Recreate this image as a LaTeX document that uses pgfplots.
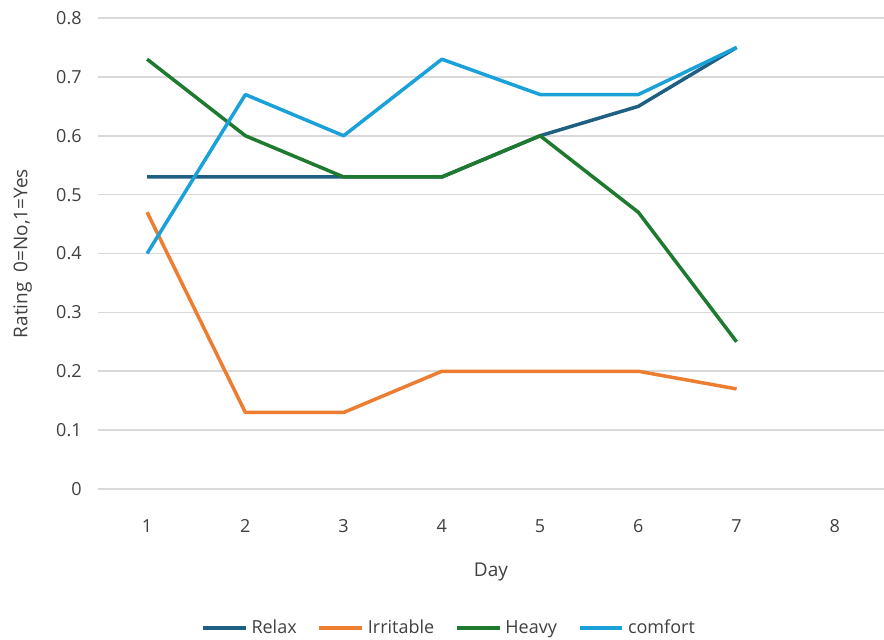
\documentclass[border=0pt]{standalone}
\usepackage{pgfplots}
\pgfplotsset{compat=1.18}
\usepackage{fontspec}
\setmainfont{Open Sans}
\definecolor{crelax}{HTML}{1F5F82}
\definecolor{cirr}{HTML}{ED7D31}
\definecolor{cheavy}{HTML}{1E7A2E}
\definecolor{ccomf}{HTML}{1BA1D9}
\definecolor{cgrid}{HTML}{D9D9D9}
\definecolor{ctext}{HTML}{404040}
\begin{document}
\fontsize{9}{10}\selectfont
\begin{tikzpicture}
\path[use as bounding box] (-49pt,-75pt) rectangle (393pt,244.5pt);
\begin{axis}[
  scale only axis,
  width=393pt, height=235.5pt,
  xmin=0.5, xmax=8.5, ymin=0, ymax=0.8,
  xtick={1,...,8}, ytick={0,0.1,...,0.8},
  yticklabel style={/pgf/number format/fixed,/pgf/number format/precision=1},
  /pgf/number format/assume math mode=true,
  ymajorgrids, grid style={cgrid, line width=0.8pt},
  axis line style={draw=none},
  major tick length=0pt,
  tick label style={font=\fontsize{9}{10}\selectfont, text=ctext},
  yticklabel style={xshift=-5pt},
  xticklabel style={yshift=-12pt},
  xlabel={Day}, ylabel={Rating\ \ 0=No,1=Yes},
  label style={font=\fontsize{9.5}{10}\selectfont, text=ctext},
  xlabel style={yshift=-9pt},
  ylabel style={yshift=6pt},
  legend style={at={(0.448,-0.295)}, anchor=center, draw=none, fill=none,
    legend columns=4, font=\fontsize{9}{10}\selectfont, text=ctext,
    /tikz/every even column/.append style={column sep=8.5pt}},
  legend cell align=left,
  legend image code/.code={\draw[#1, line width=1.75pt] (0cm,0cm) -- (0.75cm,0cm);},
  every axis plot/.append style={line width=1.75pt, mark=none, line join=round},
  clip=false,
]
\addplot[crelax] coordinates {(1,0.53)(2,0.53)(3,0.53)(4,0.53)(5,0.6)(6,0.65)(7,0.75)};
\addlegendentry{Relax}
\addplot[cirr] coordinates {(1,0.47)(2,0.13)(3,0.13)(4,0.2)(5,0.2)(6,0.2)(7,0.17)};
\addlegendentry{Irritable}
\addplot[cheavy] coordinates {(1,0.73)(2,0.6)(3,0.53)(4,0.53)(5,0.6)(6,0.47)(7,0.25)};
\addlegendentry{Heavy}
\addplot[ccomf] coordinates {(1,0.4)(2,0.67)(3,0.6)(4,0.73)(5,0.67)(6,0.67)(7,0.75)};
\addlegendentry{comfort}
\end{axis}
\end{tikzpicture}
\end{document}
